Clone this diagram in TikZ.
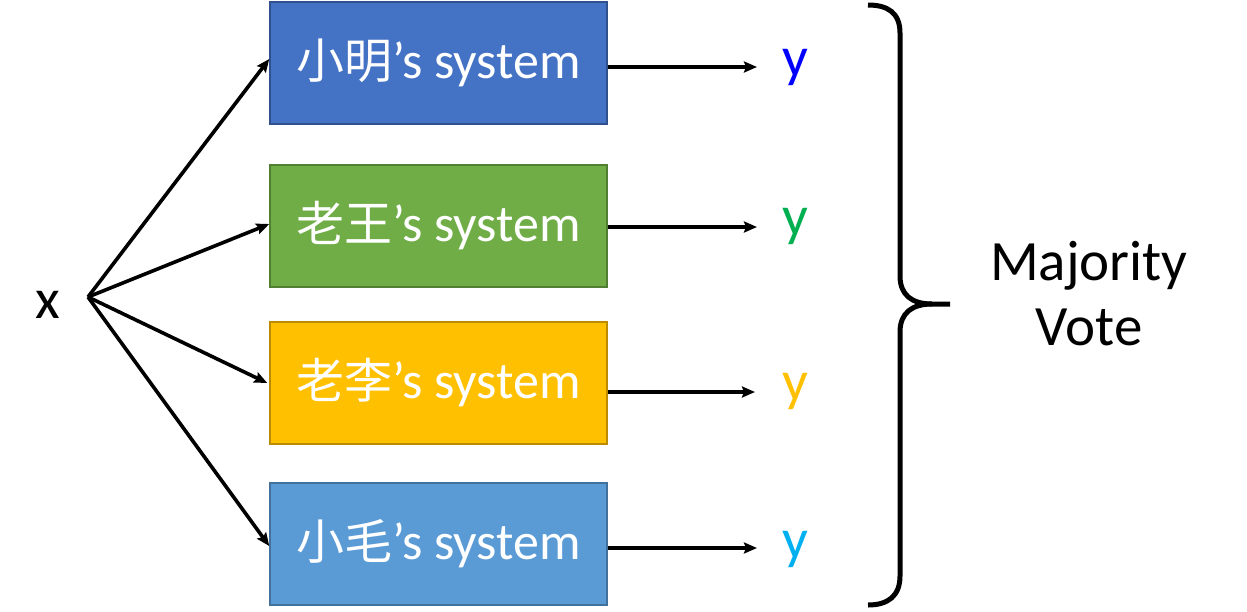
\documentclass[tikz,border=0pt]{standalone}
\usepackage{fontspec}
\setmainfont{Carlito}
\newfontfamily\cjk{Noto Sans CJK SC}
\usetikzlibrary{arrows.meta}
\definecolor{bA}{HTML}{4472C4}\definecolor{bAd}{HTML}{2F528F}
\definecolor{bB}{HTML}{70AD47}\definecolor{bBd}{HTML}{507E32}
\definecolor{bC}{HTML}{FFC000}\definecolor{bCd}{HTML}{BC8C00}
\definecolor{bD}{HTML}{5B9BD5}\definecolor{bDd}{HTML}{41719C}
\definecolor{yA}{HTML}{0000FF}
\definecolor{yB}{HTML}{00B050}
\definecolor{yC}{HTML}{FFC000}
\definecolor{yD}{HTML}{00B0F0}
\begin{document}
\begin{tikzpicture}[x=1pt,y=-1pt,
  sysbox/.style={draw, line width=1.5pt, minimum width=337pt, minimum height=122pt,
    inner sep=0pt, text=white, font=\fontsize{52}{60}\selectfont},
  lbl/.style={anchor=base, inner sep=0pt, font=\fontsize{57}{66}\selectfont},
  arr/.style={line width=3.6pt, -{Stealth[length=13pt,width=11pt,inset=2pt]}}]
\useasboundingbox (0,0) rectangle (1247,611);
\node[sysbox, fill=bA, draw=bAd] (b1) at (438.5,63) {{\cjk\fontsize{48}{60}\selectfont 小明}’s system};
\node[sysbox, fill=bB, draw=bBd] (b2) at (438.5,226) {{\cjk\fontsize{48}{60}\selectfont 老王}’s system};
\node[sysbox, fill=bC, draw=bCd] (b3) at (438.5,383) {{\cjk\fontsize{48}{60}\selectfont 老李}’s system};
\node[sysbox, fill=bD, draw=bDd] (b4) at (438.5,544) {{\cjk\fontsize{48}{60}\selectfont 小毛}’s system};
\node[lbl] (x) at (48,318) {x};
\coordinate (xp) at (88,297);
\node[lbl, text=yA] (y1) at (795,76) {y};
\node[lbl, text=yB] (y2) at (795,235) {y};
\node[lbl, text=yC] (y3) at (795,400) {y};
\node[lbl, text=yD] (y4) at (795,558) {y};
\coordinate (e1) at (757,67);
\coordinate (e2) at (757,227);
\coordinate (e3) at (755,392);
\coordinate (e4) at (757,548);
\draw[arr] (xp) -- ([yshift=4pt]b1.west);
\draw[arr] (xp) -- ([yshift=2pt]b2.west);
\draw[arr] (xp) -- ([xshift=-2pt]b3.west);
\draw[arr] (xp) -- ([yshift=-2pt]b4.west);
\draw[arr] (b1.east |- e1) -- (e1);
\draw[arr] (b2.east |- e2) -- (e2);
\draw[arr] (b3.east |- e3) -- (e3);
\draw[arr] (b4.east |- e4) -- (e4);
\coordinate (tip) at (950,304);
\draw[line width=5pt] (868,5) .. controls (888,5) and (900,13) .. (900,33) -- (900,276)
  .. controls (900,295) and (912,304) .. (932,304) -- (tip);
\draw[line width=5pt] (932,304) .. controls (912,304) and (900,313) .. (900,332) -- (900,576)
  .. controls (900,596) and (888,605) .. (868,605);
\node[lbl] (mv1) at (1089,280) {Majority};
\node[lbl] (mv2) at (1089,345) {Vote};
\end{tikzpicture}
\end{document}
